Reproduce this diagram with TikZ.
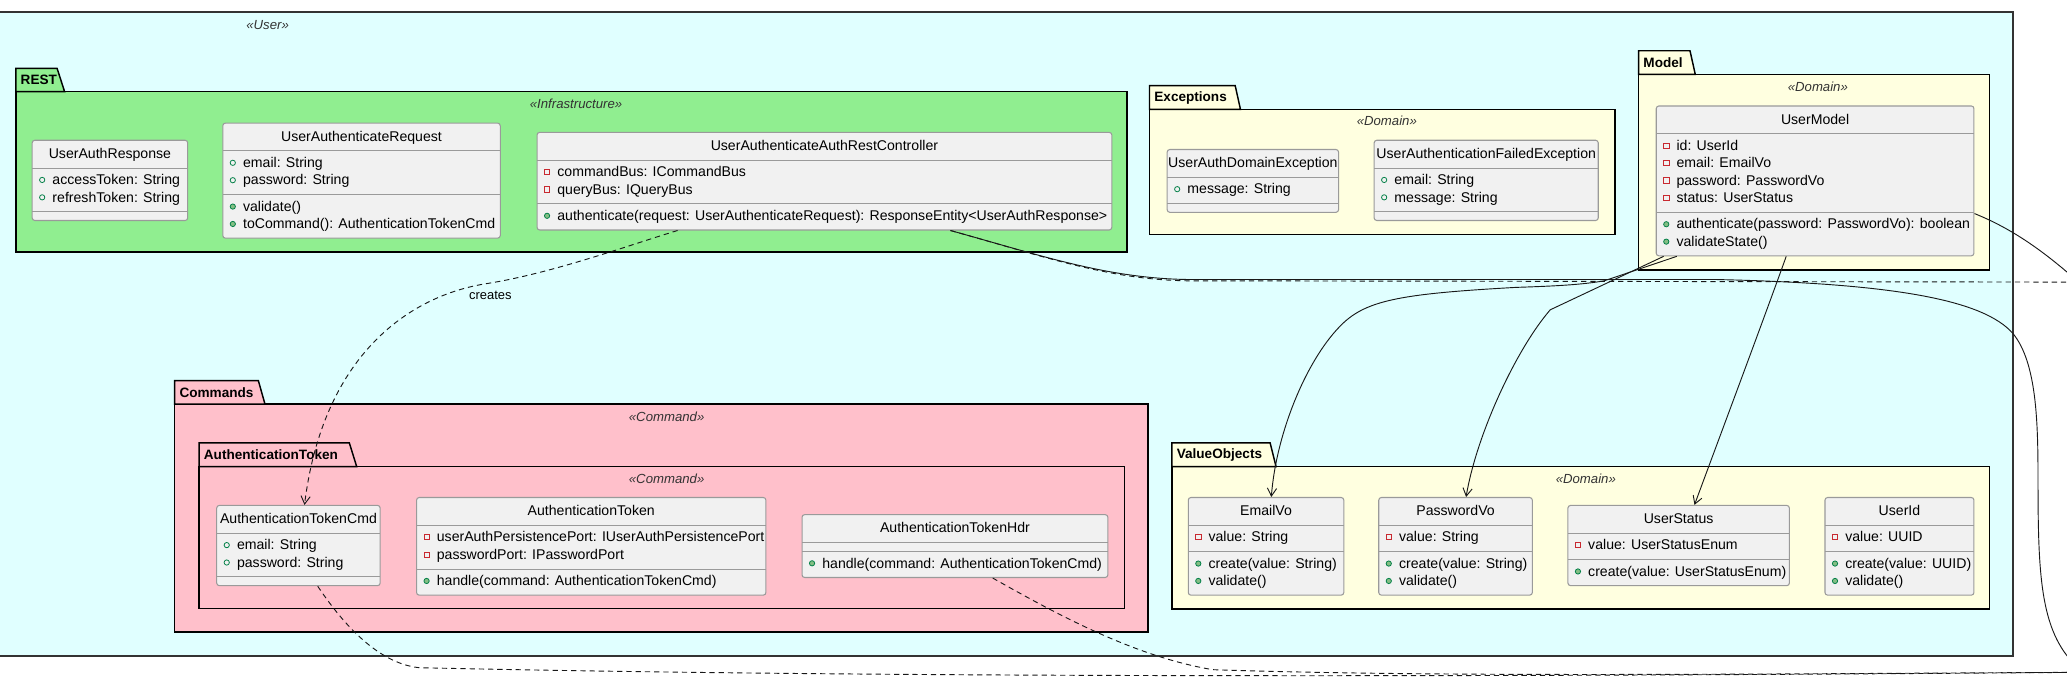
\documentclass[tikz,border=0pt]{standalone}
\usepackage{fontspec}
\setmainfont{Liberation Sans}
\usetikzlibrary{arrows.meta}

\definecolor{usercyan}{HTML}{E0FFFF}
\definecolor{restgreen}{HTML}{90EE90}
\definecolor{domainyellow}{HTML}{FFFFE0}
\definecolor{cmdpink}{HTML}{FFC0CB}
\definecolor{classbg}{HTML}{F1F1F1}
\definecolor{classline}{HTML}{9A9A9A}
\definecolor{pubgreen}{HTML}{038048}
\definecolor{pubfill}{HTML}{84BE84}
\definecolor{privred}{HTML}{C82930}
\definecolor{linkcol}{HTML}{181818}

\newcommand{\umlfont}{\fontsize{10.7}{13.2}\selectfont}
% member icons
\newcommand{\pubf}{\tikz[baseline=-3.6pt]{\useasboundingbox (0pt,-2pt) rectangle (15.4pt,2pt);
  \draw[pubgreen,line width=0.6pt] (7.6pt,0pt) circle[radius=2pt];}}
\newcommand{\pubm}{\tikz[baseline=-3.6pt]{\useasboundingbox (0pt,-2pt) rectangle (15.4pt,2pt);
  \draw[draw=pubgreen,fill=pubfill,line width=0.6pt] (7.6pt,0pt) circle[radius=2pt];}}
\newcommand{\privf}{\tikz[baseline=-3.6pt]{\useasboundingbox (0pt,-2pt) rectangle (15.4pt,2pt);
  \draw[privred,line width=0.6pt,sharp corners] (5.6pt,-2pt) rectangle (9.6pt,2pt);}}
% class box parts
\newcommand{\cname}[2]{\makebox[#1]{\rule{0pt}{10.5pt}#2}}
\newcommand{\cpad}{\noalign{\vskip3.2pt}}
\newcommand{\csep}{\noalign{\vskip3pt{\color{classline}\hrule height 0.8pt}\vskip3pt}}

\tikzset{
  umlclass/.style={draw=classline, fill=classbg, line width=0.8pt, rounded corners=2pt,
    inner sep=0pt, anchor=north west, font=\umlfont},
  pkg/.style={draw=black, line width=1.1pt},
  userframe/.style={draw=black!80, line width=1.4pt, fill=usercyan},
  pkgname/.style={anchor=west, inner sep=0pt, font=\fontsize{10.3}{12}\selectfont\bfseries},
  stereo/.style={inner sep=0pt, font=\fontsize{10}{12}\selectfont\itshape, text=black!80},
  lbl/.style={inner sep=0pt, font=\fontsize{9.8}{12}\selectfont},
  link/.style={draw=linkcol, line width=0.7pt},
  dep/.style={link, dash pattern=on 4pt off 3pt},
  arr/.style={-{Straight Barb[length=6pt,width=7pt]}}
}

\begin{document}
\begin{tikzpicture}[x=1pt,y=-1pt]
\useasboundingbox (0,0) rectangle (1568,520);
\clip (0,0) rectangle (1568,520);

% package User
\draw[userframe] (-10,9.4) rectangle (1527,497.7);
\node[stereo] (userst) at (203,19) {«User»};

% package REST
\draw[pkg,fill=restgreen] (12,69.5) rectangle (855,191);
\draw[pkg,fill=restgreen] (12,69.5) -- (12,51.8) -- (43.3,51.8) -- (49,69.5) -- cycle;
\node[pkgname] (restname) at (15.5,60.6) {REST};
\node[stereo] (restst) at (437,79) {«Infrastructure»};

% package Exceptions
\draw[pkg,fill=domainyellow] (872,83) rectangle (1225,178);
\draw[pkg,fill=domainyellow] (872,83) -- (872,65) -- (937,65) -- (941,83) -- cycle;
\node[pkgname] (excname) at (875.5,74) {Exceptions};
\node[stereo] (excst) at (1052,92) {«Domain»};

% package Model
\draw[pkg,fill=domainyellow] (1243,56.4) rectangle (1509,204.8);
\draw[pkg,fill=domainyellow] (1243,56.4) -- (1243,38.5) -- (1282,38.5) -- (1286,56.4) -- cycle;
\node[pkgname] (modelname) at (1246.5,47.4) {Model};
\node[stereo] (modelst) at (1379,66) {«Domain»};

% package Commands
\draw[pkg,fill=cmdpink] (132.5,306.5) rectangle (871,479.3);
\draw[pkg,fill=cmdpink] (132.5,306.5) -- (132.5,288.8) -- (196,288.8) -- (201,306.5) -- cycle;
\node[pkgname] (cmdname) at (136,297.6) {Commands};
\node[stereo] (cmdst) at (505.7,316) {«Command»};

% package AuthenticationToken
\draw[pkg,fill=cmdpink] (151,354) rectangle (853,461.5);
\draw[pkg,fill=cmdpink] (151,354) -- (151,336) -- (265,336) -- (270.6,354) -- cycle;
\node[pkgname] (tokname) at (154.5,345) {AuthenticationToken};
\node[stereo] (tokst) at (505.7,363) {«Command»};

% package ValueObjects
\draw[pkg,fill=domainyellow] (889,354) rectangle (1509,462);
\draw[pkg,fill=domainyellow] (889,354) -- (889,336) -- (963.5,336) -- (968,354) -- cycle;
\node[pkgname] (voname) at (892.5,345) {ValueObjects};
\node[stereo] (vost) at (1203,363) {«Domain»};

% classes
\node[umlclass] (resp) at (24,106) {\begin{tabular}{@{}l@{}}\cpad
  \cname{118pt}{UserAuthResponse}\\ \csep
  \pubf accessToken: String\\
  \pubf refreshToken: String\\ \csep \cpad
\end{tabular}};
\node[umlclass] (req) at (168.6,93) {\begin{tabular}{@{}l@{}}\cpad
  \cname{210.5pt}{UserAuthenticateRequest}\\ \csep
  \pubf email: String\\
  \pubf password: String\\ \csep
  \pubm validate()\\
  \pubm toCommand(): AuthenticationTokenCmd\\ \cpad
\end{tabular}};
\node[umlclass] (ctrl) at (407,100) {\begin{tabular}{@{}l@{}}\cpad
  \cname{436pt}{UserAuthenticateAuthRestController}\\ \csep
  \privf commandBus: ICommandBus\\
  \privf queryBus: IQueryBus\\ \csep
  \pubm authenticate(request: UserAuthenticateRequest): ResponseEntity<UserAuthResponse>\\ \cpad
\end{tabular}};
\node[umlclass] (domexc) at (885,113) {\begin{tabular}{@{}l@{}}\cpad
  \cname{130pt}{UserAuthDomainException}\\ \csep
  \pubf message: String\\ \csep \cpad
\end{tabular}};
\node[umlclass] (failexc) at (1042,106) {\begin{tabular}{@{}l@{}}\cpad
  \cname{170pt}{UserAuthenticationFailedException}\\ \csep
  \pubf email: String\\
  \pubf message: String\\ \csep \cpad
\end{tabular}};
\node[umlclass] (usermodel) at (1256,80) {\begin{tabular}{@{}l@{}}\cpad
  \cname{241pt}{UserModel}\\ \csep
  \privf id: UserId\\
  \privf email: EmailVo\\
  \privf password: PasswordVo\\
  \privf status: UserStatus\\ \csep
  \pubm authenticate(password: PasswordVo): boolean\\
  \pubm validateState()\\ \cpad
\end{tabular}};
\node[umlclass] (tokcmd) at (164,383) {\begin{tabular}{@{}l@{}}\cpad
  \cname{124pt}{AuthenticationTokenCmd}\\ \csep
  \pubf email: String\\
  \pubf password: String\\ \csep \cpad
\end{tabular}};
\node[umlclass] (tok) at (315.6,377) {\begin{tabular}{@{}l@{}}\cpad
  \cname{265pt}{AuthenticationToken}\\ \csep
  \privf userAuthPersistencePort: IUserAuthPersistencePort\\
  \privf passwordPort: IPasswordPort\\ \csep
  \pubm handle(command: AuthenticationTokenCmd)\\ \cpad
\end{tabular}};
\node[umlclass] (tokhdr) at (608,390) {\begin{tabular}{@{}l@{}}\cpad
  \cname{232pt}{AuthenticationTokenHdr}\\ \csep \csep
  \pubm handle(command: AuthenticationTokenCmd)\\ \cpad
\end{tabular}};
\node[umlclass] (emailvo) at (901,377) {\begin{tabular}{@{}l@{}}\cpad
  \cname{118pt}{EmailVo}\\ \csep
  \privf value: String\\ \csep
  \pubm create(value: String)\\
  \pubm validate()\\ \cpad
\end{tabular}};
\node[umlclass] (passvo) at (1045.5,377) {\begin{tabular}{@{}l@{}}\cpad
  \cname{116.5pt}{PasswordVo}\\ \csep
  \privf value: String\\ \csep
  \pubm create(value: String)\\
  \pubm validate()\\ \cpad
\end{tabular}};
\node[umlclass] (status) at (1189,383) {\begin{tabular}{@{}l@{}}\cpad
  \cname{168pt}{UserStatus}\\ \csep
  \privf value: UserStatusEnum\\ \csep
  \pubm create(value: UserStatusEnum)\\ \cpad
\end{tabular}};
\node[umlclass] (userid) at (1384,377) {\begin{tabular}{@{}l@{}}\cpad
  \cname{113pt}{UserId}\\ \csep
  \privf value: UUID\\ \csep
  \pubm create(value: UUID)\\
  \pubm validate()\\ \cpad
\end{tabular}};

% ends outside the picture
\coordinate (ctrlexit) at (1578,508);
\coordinate (ctrldashexit) at (1578,214);
\coordinate (modelexit) at (1580,217);
\coordinate (bottomexit) at (1578,510);

% links
\draw[dep,arr] ([xshift=107pt]ctrl.south west) .. controls (480,185) and (420,207) .. (370,215)
  .. controls (310,224) and (245,270) .. ([xshift=67pt]tokcmd.north west);
\node[lbl] (createslbl) at (372,224) {creates};

\draw[link] ([xshift=314pt]ctrl.south west) .. controls (790,194) and (840,211) .. (900,212) -- (1300,212)
  .. controls (1440,215) and (1505,228) .. (1527,253) .. controls (1545,275) and (1546,320) .. (1546,364)
  .. controls (1546,440) and (1548,482) .. (ctrlexit);
\draw[dep] ([xshift=314pt]ctrl.south west) .. controls (790,194) and (840,212) .. (900,213) -- (ctrldashexit);

\draw[link,arr] ([xshift=16pt]usermodel.south west) -- (1217,213) .. controls (1200,216) and (1180,217) .. (1150,218)
  .. controls (1060,223) and (1035,228) .. (1016,248) .. controls (990,275) and (968,330) .. ([xshift=4pt]emailvo.north);
\draw[link,arr] ([xshift=6pt]usermodel.south west) -- (1176,235)
  .. controls (1150,265) and (1120,330) .. ([xshift=8pt]passvo.north);
\draw[link,arr] ([xshift=99pt]usermodel.south west) .. controls (1335,250) and (1305,330) .. ([xshift=12pt]status.north);
\draw[link] ([yshift=-82pt]usermodel.north east) .. controls (1520,171) and (1545,185) .. (modelexit);

\draw[dep] ([xshift=77pt]tokcmd.south west) .. controls (258,470) and (285,503) .. (318,506.5)
  .. controls (700,515) and (1200,513) .. (bottomexit);
\draw[dep] ([xshift=145pt]tokhdr.south west) .. controls (800,465) and (860,498) .. (920,508)
  .. controls (1100,514) and (1350,511) .. (bottomexit);
\end{tikzpicture}
\end{document}
